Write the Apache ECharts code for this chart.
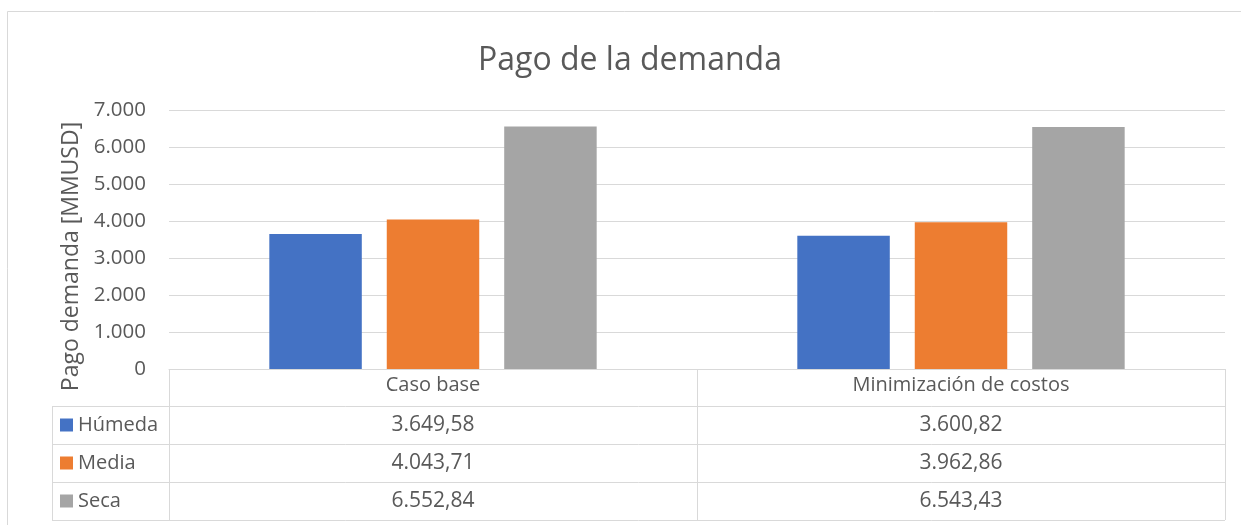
<!DOCTYPE html>
<html>
<head>
<meta charset="utf-8">
<script src="https://cdn.jsdelivr.net/npm/echarts@6/dist/echarts.min.js"></script>
<style>
html,body{margin:0;padding:0;background:#fff;}
#c{width:1241px;height:525px;}
</style>
</head>
<body>
<div id="c"></div>
<script>
var categories = ['Caso base', 'Minimización de costos'];
var seriesNames = ['Húmeda', 'Media', 'Seca'];
var humeda = [3649.58, 3600.82];
var media = [4043.71, 3962.86];
var seca = [6552.84, 6543.43];
var yTicks = [0, 1000, 2000, 3000, 4000, 5000, 6000, 7000];
var colors = ['#4472C4', '#ED7D31', '#A5A5A5'];
var seriesValues = [humeda, media, seca];

function fmtThousands(v) {
  var s = String(Math.round(v));
  return s.replace(/\B(?=(\d{3})+(?!\d))/g, '.');
}
function fmtDec(v) {
  var parts = v.toFixed(2).split('.');
  return parts[0].replace(/\B(?=(\d{3})+(?!\d))/g, '.') + ',' + parts[1];
}

var FONT = 'Open Sans';
var TXT = '#595959';
var LINE = '#d9d9d9';
var gridLeft = 169, gridRight = 16, gridTop = 110, gridBottom = 156;
var headerH = 37, rowH = 38, legendLeft = 52;

var chart = echarts.init(document.getElementById('c'));
var option = {
  animation: false,
  backgroundColor: '#fff',
  title: {
    text: 'Pago de la demanda',
    left: 473,
    top: 40,
    textStyle: {fontFamily: FONT, fontSize: 32, fontWeight: 'normal', color: TXT}
  },
  grid: {left: gridLeft, right: gridRight, top: gridTop, bottom: gridBottom, containLabel: false},
  xAxis: {
    type: 'category',
    data: categories,
    axisLine: {show: true, lineStyle: {color: LINE, width: 1}},
    axisTick: {show: true, length: headerH + rowH * 3, lineStyle: {color: LINE, width: 1}},
    axisLabel: {fontFamily: FONT, fontSize: 20, color: TXT, margin: 6}
  },
  yAxis: {
    type: 'value',
    min: yTicks[0],
    max: yTicks[yTicks.length - 1],
    interval: yTicks[1] - yTicks[0],
    name: 'Pago demanda [MMUSD]',
    nameLocation: 'middle',
    nameGap: 84,
    nameTextStyle: {fontFamily: FONT, fontSize: 23, color: TXT, padding: [0, 34, 0, 0]},
    axisLine: {show: false},
    axisTick: {show: false},
    splitLine: {lineStyle: {color: LINE, width: 1}},
    axisLabel: {fontFamily: FONT, fontSize: 20.5, color: TXT, margin: 23, formatter: function (v) { return fmtThousands(v); }}
  },
  series: seriesNames.map(function (n, i) {
    return {
      name: n,
      type: 'bar',
      data: seriesValues[i],
      itemStyle: {color: colors[i]},
      barGap: '27%',
      barCategoryGap: '38%'
    };
  })
};
chart.setOption(option);

// Build the data table beneath the axis
var plotRight = 1241 - gridRight;
var axisY = chart.convertToPixel({yAxisIndex: 0}, 0);
var els = [];
// outer border
els.push({type: 'rect', shape: {x: 7.5, y: 11.5, width: 1250, height: 530}, style: {fill: null, stroke: LINE, lineWidth: 1}, silent: true, z: -10});
var bottomY = axisY + headerH + rowH * seriesNames.length;
var nameFont = '20px "' + FONT + '"';
var numFont = '21px "' + FONT + '"';
for (var r = 0; r < seriesNames.length; r++) {
  var yTop = axisY + headerH + r * rowH;
  els.push({type: 'line', shape: {x1: legendLeft, y1: Math.round(yTop) + 0.5, x2: plotRight, y2: Math.round(yTop) + 0.5}, style: {stroke: LINE, lineWidth: 1}});
  els.push({type: 'rect', shape: {x: legendLeft + 8, y: yTop + rowH / 2 - 6.5, width: 13, height: 13}, style: {fill: colors[r]}});
  els.push({type: 'text', style: {text: seriesNames[r], x: legendLeft + 26, y: yTop + rowH / 2, verticalAlign: 'middle', align: 'left', fill: TXT, font: nameFont}});
  for (var c = 0; c < categories.length; c++) {
    var cx = chart.convertToPixel({xAxisIndex: 0}, categories[c]);
    els.push({type: 'text', style: {text: fmtDec(seriesValues[r][c]), x: cx, y: yTop + rowH / 2, verticalAlign: 'middle', align: 'center', fill: TXT, font: numFont}});
  }
}
els.push({type: 'line', shape: {x1: legendLeft, y1: Math.round(bottomY) + 0.5, x2: plotRight, y2: Math.round(bottomY) + 0.5}, style: {stroke: LINE, lineWidth: 1}});
els.push({type: 'line', shape: {x1: legendLeft + 0.5, y1: axisY + headerH, x2: legendLeft + 0.5, y2: bottomY}, style: {stroke: LINE, lineWidth: 1}});
chart.setOption({graphic: {elements: els}});
</script>
</body>
</html>
